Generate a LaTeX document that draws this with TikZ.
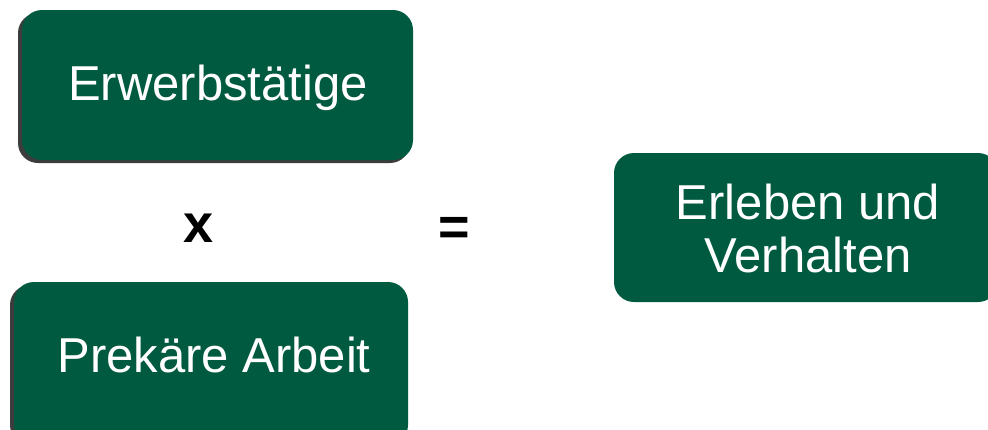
\documentclass[tikz,border=0pt]{standalone}
\usepackage{fontspec}
\setmainfont{Liberation Sans}
\definecolor{boxgreen}{HTML}{005A40}
\definecolor{boxshade}{HTML}{3C3C3C}
\begin{document}
\begin{tikzpicture}[x=1pt,y=-1pt,
  termbox/.style={fill=boxgreen, rounded corners=20pt, text=white,
    font=\fontsize{49}{53}\selectfont, align=center, inner sep=0pt},
  shade/.style={fill=boxshade, rounded corners=20pt},
  operator/.style={font=\fontsize{54}{60}\selectfont\bfseries, text=black}]
\useasboundingbox (0,0) rectangle (988,429);
% drop shadows behind the two factor boxes
\fill[shade] (18,13) rectangle (410,163);
\fill[shade] (10,285) rectangle (405,445);
% factor boxes
\fill[termbox] (22,10) rectangle (413,160);
\node[termbox, fill=none] (erw) at (218,88) {Erwerbstätige};
\fill[termbox] (14,282) rectangle (408,445);
\node[termbox, fill=none] (prek) at (214,355) {Prekäre Arbeit};
% result box, running past the right edge
\fill[termbox] (614,153) rectangle (998,302);
\node[termbox, fill=none] (erl) at (808,228) {Erleben und\\Verhalten};
% operators
\node[operator] (mal) at (199,228) {x};
\node[operator] (gleich) at (454,231) {=};
\end{tikzpicture}
\end{document}
